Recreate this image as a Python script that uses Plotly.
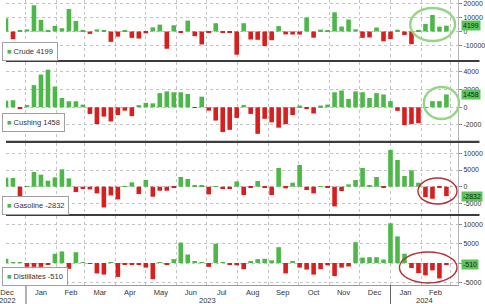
import pandas as pd
import plotly.graph_objects as go

# ---------------- data (thousand barrels, weekly change) ----------------
week_ending = pd.date_range("2022-12-09", "2024-02-23", freq="7D")

crude = [9500, -5600, 700, 1500,
         19000, 8400, 500, 4100, 2400, 16300, 7600, 1200, -1700, 1500,
         1100, -7500, -3700, 600, -4600, -5100, -1300, 3000, 5000, -12500,
         4500, -500, 7900, -3400, -9400, -600, 6000, -700, -600, -16800,
         6000, -5800, -6000, -10600, -6300, 3900, -2100, -2200, -2200, 10200,
         -4500, 1400, 800, 13900, 3600, 8700, 1600, -4600, -4300, 2900,
         -7100, -5500, 1300, -2500, -9200, 1200, 5500, 12000, 3500, 4199]

cushing = [750, 800, -100, 250,
           2500, 3700, 4250, 2350, 1050, 680, 680, 300, -750, -1900,
           -1050, -1600, -870, -380, -1000, 250, 500, 450, 1600, 1800,
           1700, 1700, 1500, -50, 1200, -380, -1500, -2800, -2550, -1200,
           250, -750, -3000, -1300, -1700, -2300, -1900, -870, 200, -200,
           -700, 200, 300, 1700, 1900, 950, 1800, 1700, 1050, 1600,
           1450, 700, -400, -2000, -1900, -1800, 30, 700, 700, 1458]

gasoline = [2700, 2600, -3100, 200,
            4400, 3600, 1800, 2800, 5200, 2500, -1600, -700, -800, -2000,
            -6200, -2600, -3800, 200, 1300, -2200, 2000, -3000, -1200, -1200,
            -200, 2900, 2300, 400, 300, -2300, 100, -700, -700, 1600,
            -2500, -200, 1700, -200, -2500, 5600, -500, 1200, 6500, -1000,
            -2000, 100, -100, -5900, -1300, 700, 2000, 5600, 500, 2900,
            -300, 11000, 8000, 3200, 4900, 1200, -3100, -3600, -300, -2832]

distillates = [1100, 200, 200, -1000,
               -1000, -1000, -500, 2400, 3000, -1500, 2800, 100, -100, -2700,
               -3000, 100, -3600, -500, -500, -500, -1200, -4200, 100, -500,
               1000, 5300, 2200, 400, 100, -1000, 5000, 100, -300, -600,
               -1600, 300, 1000, 1100, 700, 4100, -2700, 300, -1200, -1700,
               -3000, -1600, -600, -3400, -1200, -900, 5400, 1400, 1500, 1500,
               900, 10300, 6900, 2400, -1300, -2600, -3200, -1900, -4000, -510]

series_names = ["Crude", "Cushing", "Gasoline", "Distillates"]
last_values = ["4199", "1458", "-2832", "-510"]

month_labels = ["Dec", "Jan", "Feb", "Mar", "Apr", "May", "Jun", "Jul",
                "Aug", "Sep", "Oct", "Nov", "Dec", "Jan", "Feb"]
month_mid = ["2022-12-13", "2023-01-16", "2023-02-15", "2023-03-16", "2023-04-15",
             "2023-05-16", "2023-06-15", "2023-07-16", "2023-08-16", "2023-09-15",
             "2023-10-16", "2023-11-15", "2023-12-16", "2024-01-16", "2024-02-15"]
month_starts = ["2022-12-01", "2023-01-01", "2023-02-01", "2023-03-01", "2023-04-01",
                "2023-05-01", "2023-06-01", "2023-07-01", "2023-08-01", "2023-09-01",
                "2023-10-01", "2023-11-01", "2023-12-01", "2024-01-01", "2024-02-01",
                "2024-03-01"]
year_labels = ["2022", "2023", "2024"]
year_pos = ["2022-12-13", "2023-07-02", "2024-02-04"]

y_ticks = [[-10000, 0, 10000, 20000],
           [-2000, 0, 2000, 4000],
           [-5000, 0, 5000, 10000],
           [-5000, 0, 5000, 10000]]

# ---------------- styling / layout ----------------
W, H = 485, 304
ML, MR, MT, MB = 0, 22, 0, 19
PW, PH = W - ML - MR, H - MT - MB

def pxx(p):
    return p / PW

def pxy(p):
    return (PH - p) / PH

FONT = "Liberation Sans, Arial, sans-serif"
GREEN = "#4cb847"
RED = "#d91e1e"
GRID = "#c4c4c4"

bands = [(0, 60), (62, 141), (143, 214), (216, 285)]
y_ranges = [[-20650, 22830], [-3810, 5120], [-8170, 13080], [-5700, 12180]]

xpos = week_ending + pd.Timedelta(days=3)
bar_w = 4.6 * 86400000
x_range = ["2022-12-12", "2024-03-08 14:00"]

data_all = [crude, cushing, gasoline, distillates]

fig = go.Figure()
layout = dict(
    width=W, height=H,
    margin=dict(l=ML, r=MR, t=MT, b=MB, pad=0),
    paper_bgcolor="white", plot_bgcolor="white",
    showlegend=False,
    font=dict(family=FONT, size=7, color="#333"),
)

annotations = []
shapes = []

for k in range(4):
    n = k + 1
    xa = "x" if n == 1 else f"x{n}"
    ya = "y" if n == 1 else f"y{n}"
    xkey = "xaxis" if n == 1 else f"xaxis{n}"
    ykey = "yaxis" if n == 1 else f"yaxis{n}"
    vals = data_all[k]
    colors = [GREEN if v >= 0 else RED for v in vals]
    fig.add_trace(go.Bar(x=xpos, y=vals, width=bar_w, xaxis=xa, yaxis=ya,
                         marker=dict(color=colors, line=dict(width=0)),
                         hoverinfo="skip"))
    top, bot = bands[k]
    layout[xkey] = dict(
        domain=[0, 1], anchor=ya, type="date", range=x_range,
        tickmode="array", tickvals=month_mid, ticktext=month_labels,
        showticklabels=(n == 4), ticks="", showgrid=False, zeroline=False,
        showline=(n == 4), linecolor="#9a9a9a", linewidth=1,
        ticklabeloverflow="allow",
        tickfont=dict(size=7.5, color="#333", family=FONT),
        minor=dict(tickmode="array", tickvals=month_starts, showgrid=True,
                   gridcolor=GRID, griddash="dot", gridwidth=1, ticks=""),
    )
    if n > 1:
        layout[xkey]["matches"] = "x"
    layout[ykey] = dict(
        domain=[pxy(bot), pxy(top)], anchor=xa, side="right",
        range=y_ranges[k], tickmode="array", tickvals=y_ticks[k],
        ticktext=[str(v) for v in y_ticks[k]],
        ticks="outside", ticklen=3, tickcolor="#8a8a8a",
        showgrid=True, gridcolor=GRID, griddash="dot", gridwidth=1,
        zeroline=False, showline=True, linecolor="#b5b5b5", linewidth=1,
        ticklabeloverflow="allow",
        tickfont=dict(size=7, color="#333", family=FONT),
    )
    last = vals[-1]
    annotations.append(dict(
        xref="paper", x=1, xanchor="left", xshift=3,
        yref=ya, y=last, yanchor="middle",
        text=last_values[k], showarrow=False,
        font=dict(size=7, color="#1b1b1b", family=FONT),
        bgcolor="#5cc558", borderpad=1,
    ))

# legend boxes (bottom-left of each panel)
legend_centers = [51, 122.5, 205.5, 276.5]
for k in range(4):
    annotations.append(dict(
        xref="paper", x=pxx(-4), xanchor="left",
        yref="paper", y=pxy(legend_centers[k]), yanchor="middle",
        text=f"<span style='color:{GREEN}'>■</span> {series_names[k]}\u00a0{last_values[k]}",
        showarrow=False, align="left",
        font=dict(size=7.5, color="#333", family=FONT),
        bgcolor="white", bordercolor="#a0a0a0", borderwidth=1, borderpad=4,
    ))

# year labels
for lbl, pos in zip(year_labels, year_pos):
    annotations.append(dict(
        xref="x4", x=pos, xanchor="center",
        yref="paper", y=pxy(300), yanchor="middle",
        text=lbl, showarrow=False,
        font=dict(size=7.5, color="#333", family=FONT),
    ))

# year separators below axis
for d in ["2023-01-01", "2024-01-01"]:
    shapes.append(dict(type="line", xref="x4", x0=d, x1=d,
                       yref="paper", y0=pxy(285), y1=pxy(304),
                       line=dict(color="#666", width=1)))

# panel separators
for p in [61, 141.8, 215]:
    shapes.append(dict(type="line", xref="paper", x0=0, x1=W / PW,
                       yref="paper", y0=pxy(p), y1=pxy(p),
                       line=dict(color="#3c3c3c", width=2.2)))

# highlight ellipses
ellipses = [((414, 8, 460, 41), "#95d586", 2.4),
            ((428, 87, 464, 119), "#95d586", 2.4),
            ((422, 178, 462, 204), "#b3303a", 1.4),
            ((403, 252, 462, 283), "#b3303a", 1.4)]
for (x0, y0, x1, y1), col, lw in ellipses:
    shapes.append(dict(type="circle", xref="paper", yref="paper",
                       x0=pxx(x0), x1=pxx(x1), y0=pxy(y1), y1=pxy(y0),
                       line=dict(color=col, width=lw)))

layout["annotations"] = annotations
layout["shapes"] = shapes
fig.update_layout(**layout)
fig.write_html("out.html")
